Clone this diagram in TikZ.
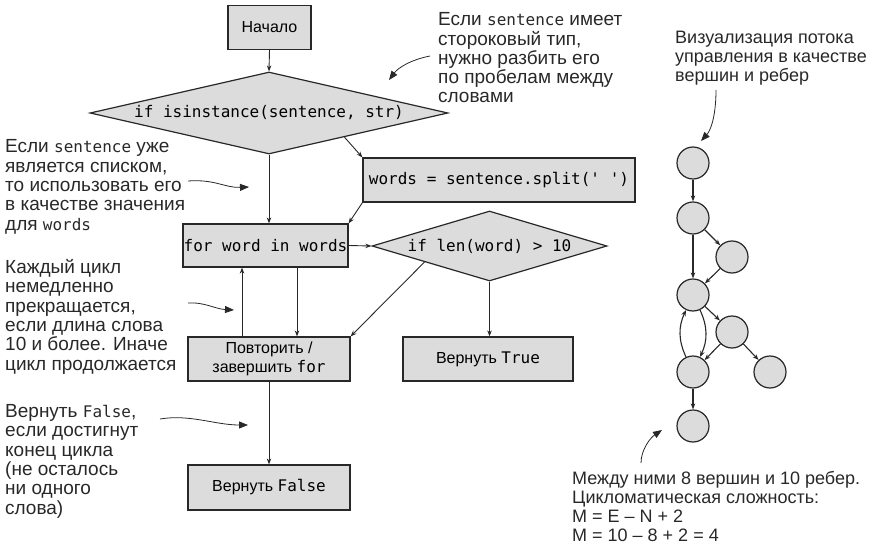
\documentclass[tikz,border=0pt]{standalone}
\usepackage{fontspec}
\setmainfont{Liberation Sans}
\setmonofont{DejaVu Sans Mono}
\usetikzlibrary{shapes.geometric,arrows.meta,calc}

\definecolor{boxfill}{RGB}{220,220,220}
\definecolor{ink}{RGB}{40,40,40}

\newcommand{\boxfont}{\fontsize{16pt}{19pt}\selectfont}
\newcommand{\notefont}{\fontsize{19pt}{19.3pt}\selectfont}
\newcommand{\sidefont}{\fontsize{18pt}{19pt}\selectfont}
\newcommand{\cd}[1]{{\fontsize{16pt}{19pt}\selectfont\ttfamily #1}}

\begin{document}
\begin{tikzpicture}[x=1pt,y=-1pt,
  flowbox/.style={draw=ink, fill=boxfill, line width=1.2pt, inner sep=0pt,
    font=\boxfont, align=center},
  decision/.style={diamond, draw=ink, fill=boxfill, line width=1.2pt,
    inner sep=0pt, font=\boxfont\ttfamily},
  vertex/.style={circle, draw=ink, fill=boxfill, line width=1.2pt,
    minimum size=32pt, inner sep=0pt},
  flow/.style={draw=ink, line width=0.9pt, -{Stealth[length=6pt,width=4.5pt]}},
  edge/.style={draw=ink, line width=1.1pt, -{Stealth[length=6pt,width=4.5pt]}},
  pointer/.style={draw=ink, line width=0.8pt, -{Triangle[length=9pt,width=7pt]}},
  % multi-line notes: the given point is the baseline of the last line
  note/.style={anchor=base west, align=left, inner sep=0pt, font=\notefont, text=ink},
  sidenote/.style={note, font=\sidefont}
]
\useasboundingbox (0,0) rectangle (875,556);

% ---- flowchart ----
\node[flowbox, minimum width=83pt, minimum height=44pt] (start) at (269.5,27.5) {Начало};
\node[decision, minimum width=358pt, minimum height=82pt, aspect=4.37] (isstr) at (269,113)
  {if isinstance(sentence, str)};
\node[flowbox, minimum width=272pt, minimum height=44pt] (split) at (499,180)
  {\cd{words = sentence.split(' ')}};
\node[flowbox, minimum width=165pt, minimum height=43pt] (loop) at (265.5,245.5)
  {\cd{for word in words}};
\node[decision, minimum width=235pt, minimum height=70pt, aspect=3.35] (long) at (489.5,246)
  {if len(word) > 10};
\node[flowbox, minimum width=162pt, minimum height=44pt] (next) at (269,359)
  {Повторить /\\завершить \cd{for}};
\node[flowbox, minimum width=170pt, minimum height=44pt] (rtrue) at (488,359)
  {Вернуть \cd{True}};
\node[flowbox, minimum width=162pt, minimum height=45pt] (rfalse) at (269,487.5)
  {Вернуть \cd{False}};

\draw[flow] (start.south) -- (isstr.north);
\draw[flow] (isstr.south) -- (isstr.south |- loop.north);
\draw[flow] ($(isstr.south)!0.42!(isstr.east)$) -- (split.north west);
\draw[flow] (split.south west) -- (loop.north east);
\draw[flow] (loop.east) -- (long.west);
\draw[flow] ($(long.west)!0.45!(long.south)$) -- (next.north east);
\draw[flow] (long.south) -- (long.south |- rtrue.north);
\draw[flow] ([xshift=-27pt]next.north) -- ([xshift=-27pt]next.north |- loop.south);
\draw[flow] ([xshift=28pt]next.north |- loop.south) -- ([xshift=28pt]next.north);
\draw[flow] (next.south) -- (rfalse.north);

% ---- notes on the flowchart ----
\node[note] (n1) at (438,103) {Если \cd{sentence} имеет\\стороковый тип,\\нужно разбить его\\по пробелам между\\словами};
\node[note] (n2) at (5,230) {Если \cd{sentence} уже\\является списком,\\то использовать его\\в качестве значения\\для \cd{words}};
\node[note] (n3) at (5,370) {Каждый цикл\\немедленно\\прекращается,\\если длина слова\\10 и более. Иначе\\цикл продолжается};
\node[note] (n4) at (5,514) {Вернуть \cd{False},\\если достигнут\\конец цикла\\(не осталось\\ни одного\\слова)};

\coordinate (p1a) at (430,56);  \coordinate (p1b) at (389,80);
\coordinate (p2a) at (188,181); \coordinate (p2b) at (249,187);
\coordinate (p3a) at (188,303); \coordinate (p3b) at (234,310);
\coordinate (p4a) at (160,419); \coordinate (p4b) at (248,425);
\draw[pointer] (p1a) .. controls (410,60) and (398,68) .. (p1b);
\draw[pointer] (p2a) .. controls (215,179) and (225,188) .. (p2b);
\draw[pointer] (p3a) .. controls (205,302) and (215,309) .. (p3b);
\draw[pointer] (p4a) .. controls (190,414) and (215,425) .. (p4b);

% ---- control-flow graph ----
\node[vertex] (g1) at (693,163) {};
\node[vertex] (g2) at (693,218) {};
\node[vertex] (g3) at (732,257) {};
\node[vertex] (g4) at (693,295) {};
\node[vertex] (g5) at (732,332) {};
\node[vertex] (g6) at (693,372) {};
\node[vertex] (g7) at (770,372) {};
\node[vertex] (g8) at (693,426) {};

\draw[edge] (g1) -- (g2);
\draw[edge] (g2) -- (g3);
\draw[edge] (g2) -- (g4);
\draw[edge] (g3) -- (g4);
\draw[edge] (g4) -- (g5);
\draw[edge] (g6) to[out=115, in=245] (g4);
\draw[edge] (g4) to[out=-65, in=65] (g6);
\draw[edge] (g5) -- (g6);
\draw[edge] (g5) -- (g7);
\draw[edge] (g6) -- (g8);

\node[sidenote] (n5) at (675,82) {Визуализация потока\\управления в качестве\\вершин и ребер};
\node[sidenote] (n6) at (572,541) {Между ними 8 вершин и 10 ребер.\\Цикломатическая сложность:\\M = E – N + 2\\M = 10 – 8 + 2 = 4};

\coordinate (p5a) at (716,90);  \coordinate (p5b) at (701,141);
\coordinate (p6a) at (641,463); \coordinate (p6b) at (662,430);
\draw[pointer] (p5a) .. controls (716,115) and (711,130) .. (p5b);
\draw[pointer] (p6a) .. controls (641,450) and (650,438) .. (p6b);
\end{tikzpicture}
\end{document}
